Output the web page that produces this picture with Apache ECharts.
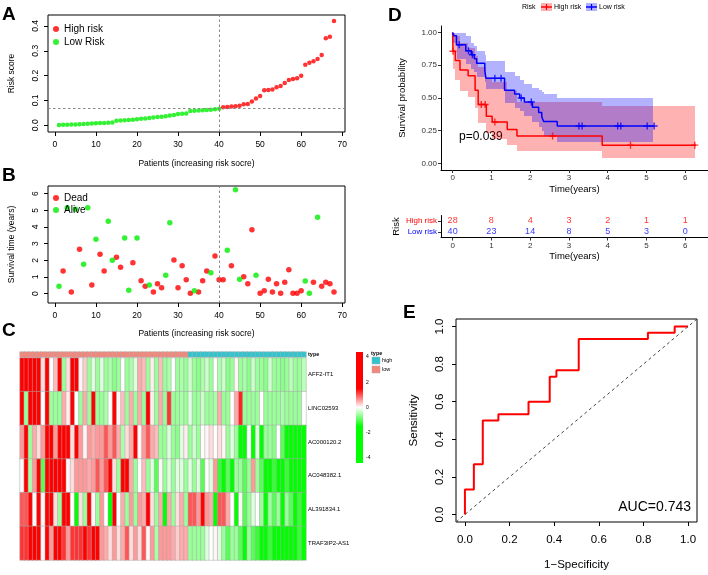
<!DOCTYPE html>
<html><head><meta charset="utf-8">
<script src="https://cdn.jsdelivr.net/npm/echarts@6/dist/echarts.min.js"></script>
<style>html,body{margin:0;padding:0;background:#fff}#c{width:708px;height:575px}</style>
</head><body><div id="c"></div>
<script>
// ---------- Panel A : risk score ----------
const riskScoreLow = [0.001,0.002,0.002,0.003,0.003,0.004,0.005,0.006,0.007,0.008,0.009,0.009,0.010,0.011,0.018,0.019,0.020,0.021,0.022,0.024,0.026,0.027,0.029,0.031,0.033,0.034,0.036,0.039,0.041,0.045,0.046,0.047,0.058,0.059,0.060,0.061,0.062,0.063,0.065,0.067];
const riskScoreHigh = [0.073,0.074,0.076,0.077,0.079,0.085,0.086,0.096,0.108,0.118,0.141,0.142,0.144,0.153,0.158,0.170,0.182,0.186,0.189,0.199,0.244,0.252,0.258,0.267,0.283,0.350,0.356,0.420];
const riskCutoff = 0.069;
const splitPatient = 40;
const patientTicks = [0,10,20,30,40,50,60,70];
const riskTicks = [0,0.1,0.2,0.3,0.4];

// ---------- Panel B : survival status ----------
const survTime = [0.44,1.36,5.16,0.10,5.06,2.66,1.76,5.16,0.52,3.26,2.36,1.36,4.34,2.00,2.18,1.58,3.34,0.20,1.86,3.34,0.78,0.44,0.52,0.10,0.60,0.36,1.10,4.26,2.02,0.36,1.68,0.84,0.02,0.18,0.10,0.78,1.36,1.26,2.26,0.84,0.84,2.60,1.68,6.24,0.86,1.02,0.60,3.84,1.10,0.02,0.18,0.86,0.10,0.60,0.02,0.68,1.44,0.02,0.02,0.18,0.76,0.02,0.68,4.58,0.44,0.68,0.60,0.10];
const survStatus = [0,1,0,1,0,1,0,0,1,0,1,1,0,0,1,1,0,0,1,0,1,1,0,1,1,1,0,0,1,1,1,1,1,0,1,1,1,0,1,1,1,0,1,0,0,1,1,1,0,1,1,1,1,1,1,1,1,1,1,1,0,0,1,0,1,1,1,1];
const timeTicks = [0,1,2,3,4,5,6];

// ---------- Panel C : heatmap ----------
const genes = ['AFF2-IT1','LINC02593','AC000120.2','AC048382.1','AL391834.1','TRAF3IP2-AS1'];
const exprAFF2 = [3,2,3,3,3,0.2,3,0,0.4,3,-0.6,0.2,3,3,0.05,0.3,-0.6,-0.2,-0.6,-0.2,-0.6,-0.5,-0.7,-0.6,0,-0.6,-0.5,-0.2,0.5,0.4,-0.6,0.1,-0.6,0.4,-0.6,-0.5,0,-0.6,-0.5,-0.6,-0.3,-0.6,-0.7,-0.5,-0.3,-0.6,0,-0.5,-0.3,-0.7,-0.6,0.05,-0.6,-0.5,-0.7,-0.3,-0.6,-0.6,-0.7,-0.3,-0.6,-0.6,-0.7,-0.6,-0.4,-0.6,-0.6,-0.4];
const exprLINC = [3,-0.6,3,3,3,0,3,-0.6,-0.6,-0.6,0.5,0.1,3,0,-0.6,0.5,-0.6,3,-0.6,-0.6,-0.5,0,3,0.05,0.4,-0.6,0.5,-0.6,0.5,-0.6,3,0.1,-0.6,0.5,-0.6,1.2,-0.6,-0.6,-0.5,-0.6,-0.2,-0.6,-0.6,-0.3,-0.6,-0.6,-0.5,0.5,-0.6,-0.6,0,0.5,1.3,-0.6,-0.6,-0.6,-0.6,0,-0.6,-0.6,-0.6,-0.6,-0.5,-0.6,-0.6,-0.6,-0.6,0];
const exprAC000120 = [0.6,3,-0.6,0.5,0.2,0.6,3,2.5,0.6,3,3,3,0.2,3,0.6,0.05,0.6,0.5,0.6,0.6,1.0,0.6,1.0,0.5,-0.5,0.2,0.5,3,0.05,0.6,1.0,0.5,0.4,-0.6,-0.6,-0.2,-0.6,-0.7,-0.2,0.1,-0.6,-0.3,-0.6,0,0.05,0.2,0,0.2,0.05,-0.6,-0.2,-0.6,-2.5,-2.5,0,-2.5,-0.2,-2.5,-0.6,-0.6,-0.7,0,-1.0,-2.5,-2.5,-2.5,-2.5,-2.5];
const exprAC048382 = [0.05,3,-0.5,0.6,3,-1.0,3,3,3,3,3,0.05,0.2,0.6,0.6,0.6,0.5,0.6,1.0,0.6,1.0,3,0.2,-0.6,2.5,3,0.5,-0.6,0,0.4,-0.6,-0.2,-1.0,0.05,-0.6,-0.2,-0.6,-0.2,-0.2,-0.6,-0.2,-0.6,-0.2,-1.0,0,-0.2,0.6,-1.2,-2.5,-1.0,-2.5,-0.6,-0.6,-1.0,-0.6,0.6,-0.6,-1.0,-2.5,-2.5,-1.2,-2.5,-2.5,-1.2,-2.5,-2.5,-2.5,-2.5];
const exprAL391834 = [1.0,1.0,3,0.05,3,0.05,3,3,0.2,-0.6,3,2,0,-2.5,0.2,-0.6,3,0.05,-0.6,0.6,0,-2,3,0,0.5,-0.6,0.6,-0.6,0.6,0.5,3,0.2,-0.6,0.5,-1.5,0.5,-0.6,0.2,0.5,-0.6,1.0,1.0,0.6,3,0.6,0.5,-2.5,1.0,1.0,0.5,0,-2,0.05,-1.0,-0.6,-0.2,0,-0.6,-2.5,-0.6,-1.0,-0.6,-2,-0.6,-1.0,-2,-1.2,-2.5];
const exprTRAF3IP2 = [1.2,1.2,3,3,3,0.05,3,0.6,3,3,1.2,0.6,1.2,1.2,1.2,3,1.2,3,2,0.6,0.5,0.2,0.6,0.2,0.5,1.0,0.2,0.6,0.2,1.0,0.05,0.6,-0.5,0.6,0.6,0.6,0.5,0.3,0.5,0.5,-0.6,-0.6,-0.6,-0.6,-0.2,0,0.05,-0.2,-0.6,-1.0,-0.6,-0.6,-1.0,-2,-0.6,-1.0,-1.2,-2.5,-2.5,-1.2,-2.5,-2.5,-2,-2.5,-2.5,-2.5,-1.2,-2.5];
const sampleType = ['low','low','low','low','low','low','low','low','low','low','low','low','low','low','low','low','low','low','low','low','low','low','low','low','low','low','low','low','low','low','low','low','low','low','low','low','low','low','low','low','high','high','high','high','high','high','high','high','high','high','high','high','high','high','high','high','high','high','high','high','high','high','high','high','high','high','high','high'];
const legendTicks = [4,2,0,-2,-4];

// ---------- Panel D : Kaplan-Meier ----------
const kmHighT = [0,0.01,0.07,0.19,0.40,0.58,0.66,0.87,1.02,1.41,1.66,3.86,6.28];
const kmHighS = [1,0.857,0.786,0.714,0.670,0.560,0.450,0.360,0.316,0.260,0.210,0.140,0.140];
const kmLowT = [0,0.03,0.10,0.34,0.48,0.56,0.62,0.83,0.86,1.34,1.60,1.73,1.85,2.06,2.22,2.30,2.35,2.70,5.21];
const kmLowS = [1,0.975,0.906,0.860,0.830,0.800,0.765,0.710,0.650,0.560,0.530,0.500,0.470,0.430,0.390,0.355,0.320,0.286,0.286];
const ciHighT = [0,0.07,0.19,0.40,0.58,0.66,0.87,1.02,1.41,1.66,3.86,6.26];
const ciHighLo = [0.72,0.64,0.55,0.51,0.42,0.31,0.23,0.19,0.14,0.094,0.043];
const ciHighHi = [1.0,0.97,0.92,0.88,0.82,0.74,0.66,0.62,0.55,0.473,0.437];
const ciLowT = [0,0.10,0.34,0.48,0.56,0.62,0.83,0.86,1.34,1.60,1.73,1.85,2.06,2.22,2.30,2.35,2.70,5.18];
const ciLowLo = [0.92,0.80,0.76,0.72,0.70,0.66,0.62,0.57,0.46,0.42,0.40,0.36,0.32,0.28,0.25,0.21,0.163];
const ciLowHi = [1.0,1.0,0.97,0.92,0.90,0.86,0.83,0.78,0.70,0.67,0.64,0.61,0.58,0.56,0.545,0.53,0.50];
const censorHighT = [0.01,0.74,0.84,1.09,2.58,4.59,6.25];
const censorHighS = [0.857,0.450,0.450,0.316,0.210,0.140,0.140];
const censorLowT = [0.17,0.41,0.51,1.09,1.25,1.77,2.03,3.26,3.34,4.26,4.34,5.02,5.20];
const censorLowS = [0.906,0.860,0.830,0.650,0.650,0.500,0.470,0.286,0.286,0.286,0.286,0.286,0.286];
const survTicks = [0,0.25,0.5,0.75,1];
const pValue = 'p=0.039';
const riskTableTimes = [0,1,2,3,4,5,6];
const atRiskHigh = [28,8,4,3,2,1,1];
const atRiskLow = [40,23,14,8,5,3,0];

// ---------- Panel E : ROC ----------
const rocFpr = [0,0,0.04,0.04,0.08,0.08,0.15,0.15,0.285,0.285,0.38,0.38,0.41,0.41,0.51,0.51,0.82,0.82,0.94,0.94,1];
const rocTpr = [0,0.133,0.133,0.267,0.267,0.5,0.5,0.533,0.533,0.6,0.6,0.733,0.733,0.767,0.767,0.933,0.933,0.967,0.967,1,1];
const rocTicks = [0,0.2,0.4,0.6,0.8,1];
const aucText = 'AUC=0.743';

// ================= build =================
const FONT = '"Liberation Sans", Arial, Helvetica, sans-serif';
const RED = '#FF0000', GREEN = '#00EE00', BLUE = '#0000FF';
const chart = echarts.init(document.getElementById('c'), null, {renderer:'canvas', width:708, height:575});

const lowPts = riskScoreLow.map((v,i)=>[i+1, v]);
const highPts = riskScoreHigh.map((v,i)=>[riskScoreLow.length+i+1, v]);
const deadPts = [], alivePts = [];
survTime.forEach((t,i)=>{ (survStatus[i]===1?deadPts:alivePts).push([i+1,t]); });
const exprRows = [exprAFF2, exprLINC, exprAC000120, exprAC048382, exprAL391834, exprTRAF3IP2];
const heatData = [];
exprRows.forEach((row,r)=>row.forEach((v,c)=>heatData.push([c,r,v])));
const typeData = sampleType.map((t,c)=>[c,0,t==='high'?1:0]);
const cats = sampleType.map((_,i)=>String(i+1));

function segs(T, lo, hi){ return lo.map((l,i)=>[T[i],T[i+1],l,hi[i]]); }
function bandRender(color){
  return function(params, api){
    const a = api.coord([api.value(0), api.value(3)]);
    const b = api.coord([api.value(1), api.value(2)]);
    const x0 = Math.round(a[0]), x1 = Math.round(b[0]);
    const y0 = Math.round(a[1]), y1 = Math.round(b[1]);
    return {type:'rect', shape:{x:x0, y:y0, width:x1-x0, height:y1-y0}, style:{fill:color}};
  };
}
const plusPath = 'path://M4,0H6V4H10V6H6V10H4V6H0V4H4Z';

function rAxisX(gi, min, max, ticks, fmt, name, fs, margin, gap){
  return {type:'value', gridIndex:gi, min, max, axisLine:{show:false, onZero:false},
    axisTick:{show:true, length:4, customValues:ticks, lineStyle:{color:'#000'}},
    axisLabel:{customValues:ticks, formatter:fmt, fontSize:fs, color:'#000', margin, fontFamily:FONT},
    splitLine:{show:false}, name, nameLocation:'middle', nameGap:gap,
    nameTextStyle:{fontSize:fs, color:'#000', fontFamily:FONT}};
}
function rAxisY(gi, min, max, ticks, fmt, name, fs, margin, gap){
  return {type:'value', gridIndex:gi, min, max, axisLine:{show:false, onZero:false},
    axisTick:{show:true, length:4, customValues:ticks, lineStyle:{color:'#000'}},
    axisLabel:{customValues:ticks, formatter:fmt, fontSize:fs, color:'#000', margin, rotate:90, fontFamily:FONT},
    splitLine:{show:false}, name, nameLocation:'middle', nameGap:gap,
    nameTextStyle:{fontSize:fs, color:'#000', fontFamily:FONT}};
}
function ggAxisX(gi, ticks, name, showName){
  return {type:'value', gridIndex:gi, min:-0.3, max:6.59,
    axisLine:{show:true, onZero:false, lineStyle:{color:'#000', width:1}},
    axisTick:{show:true, length:3, customValues:ticks, lineStyle:{color:'#333'}},
    axisLabel:{customValues:ticks, fontSize:8, color:'#333', margin:4, fontFamily:FONT},
    splitLine:{show:false}, name, nameLocation:'middle', nameGap:14,
    nameTextStyle:{fontSize:9.5, color:'#000', fontFamily:FONT}};
}

const mlStyle = {color:'#888', type:[2.5,2.5], width:1};

const option = {
  animation:false,
  backgroundColor:'#fff',
  textStyle:{fontFamily:FONT},
  grid:[
    {left:48, top:15, width:297, height:117, show:true, borderColor:'#000', borderWidth:1, backgroundColor:'transparent'},
    {left:48, top:186, width:297, height:117, show:true, borderColor:'#000', borderWidth:1, backgroundColor:'transparent'},
    {left:20, top:352, width:286, height:5},
    {left:20, top:358, width:286, height:202},
    {left:441, top:26, width:277, height:144},
    {left:441, top:215.5, width:277, height:22},
    {left:456, top:319, width:241, height:203, show:true, borderColor:'#000', borderWidth:1, backgroundColor:'transparent'}
  ],
  xAxis:[
    rAxisX(0, -1.68, 70.68, patientTicks, v=>String(v), 'Patients (increasing risk socre)', 8.5, 8, 27),
    rAxisX(1, -1.68, 70.68, patientTicks, v=>String(v), 'Patients (increasing risk socre)', 8.5, 8, 26),
    {type:'category', gridIndex:2, data:cats, show:false},
    {type:'category', gridIndex:3, data:cats, show:false},
    ggAxisX(4, timeTicks, 'Time(years)'),
    ggAxisX(5, timeTicks, 'Time(years)'),
    rAxisX(6, -0.04, 1.04, rocTicks, v=>v.toFixed(1), '1\u2212Specificity', 11.5, 12, 37)
  ],
  yAxis:[
    rAxisY(0, -0.027, 0.444, riskTicks, v=>v.toFixed(1), 'Risk score', 8.5, 8, 32),
    rAxisY(1, -0.56, 6.46, [0,1,2,3,4,5,6], v=>String(v), 'Survival time (years)', 8.5, 8, 32),
    {type:'category', gridIndex:2, data:['type'], position:'right', axisLine:{show:false}, axisTick:{show:false},
      axisLabel:{fontSize:5.5, fontWeight:'bold', color:'#000', margin:2}},
    {type:'category', gridIndex:3, data:genes, inverse:true, position:'right', axisLine:{show:false}, axisTick:{show:false},
      axisLabel:{fontSize:6, color:'#000', margin:2}},
    {type:'value', gridIndex:4, min:-0.05, max:1.05,
      axisLine:{show:true, onZero:false, lineStyle:{color:'#000', width:1}},
      axisTick:{show:true, length:3, customValues:survTicks, lineStyle:{color:'#333'}},
      axisLabel:{customValues:survTicks, formatter:v=>v.toFixed(2), fontSize:8, color:'#333', margin:4},
      splitLine:{show:false}, name:'Survival probability', nameLocation:'middle', nameGap:34,
      nameTextStyle:{fontSize:9.5, color:'#000'}},
    {type:'category', gridIndex:5, data:['Low risk','High risk'],
      axisLine:{show:true, onZero:false, lineStyle:{color:'#000', width:1}},
      axisTick:{show:true, length:3, alignWithLabel:true, lineStyle:{color:'#333'}},
      axisLabel:{fontSize:8, margin:4, color:(v)=> v==='High risk'?RED:BLUE},
      name:'Risk', nameLocation:'middle', nameGap:40, nameTextStyle:{fontSize:9.5, color:'#000'}},
    rAxisY(6, -0.04, 1.04, rocTicks, v=>v.toFixed(1), 'Sensitivity', 11.5, 10, 36)
  ],
  legend:[
    {data:['High risk','Low Risk'], orient:'vertical', left:53, top:23, icon:'circle', itemWidth:6, itemHeight:6,
      itemGap:1, selectedMode:false, textStyle:{fontSize:10, color:'#000', lineHeight:12}, padding:0},
    {data:['Dead','Alive'], orient:'vertical', left:53, top:192, icon:'circle', itemWidth:6, itemHeight:6,
      itemGap:0, selectedMode:false, textStyle:{fontSize:10, color:'#000', lineHeight:12}, padding:0}
  ],
  visualMap:[
    {type:'continuous', min:-4, max:4, seriesIndex:5, show:false,
      inRange:{color:['#00FF00','#00FF00','#00FF00','#00FF00','#00FF00','#00FF00','#55FF55','#AAFFAA','#FFFFFF','#FFAAAA','#FF5555','#FF0000','#FF0000','#FF0000','#FF0000','#FF0000','#FF0000']}},
    {type:'piecewise', seriesIndex:4, show:false,
      pieces:[{value:0, color:'#F4877C'},{value:1, color:'#2EC5CF'}]}
  ],
  series:[
    {name:'Low Risk', type:'scatter', xAxisIndex:0, yAxisIndex:0, data:lowPts, symbolSize:4.5, itemStyle:{color:GREEN}},
    {name:'High risk', type:'scatter', xAxisIndex:0, yAxisIndex:0, data:highPts, symbolSize:4.5, itemStyle:{color:RED},
      markLine:{silent:true, symbol:'none', label:{show:false}, lineStyle:mlStyle, data:[{xAxis:splitPatient},{yAxis:riskCutoff}]}},
    {name:'Dead', type:'scatter', xAxisIndex:1, yAxisIndex:1, data:deadPts, symbolSize:5.5, itemStyle:{color:RED},
      markLine:{silent:true, symbol:'none', label:{show:false}, lineStyle:mlStyle, data:[{xAxis:splitPatient}]}},
    {name:'Alive', type:'scatter', xAxisIndex:1, yAxisIndex:1, data:alivePts, symbolSize:5.5, itemStyle:{color:GREEN}},
    {type:'heatmap', xAxisIndex:2, yAxisIndex:2, data:typeData, itemStyle:{borderColor:'#A8A8A8', borderWidth:0.5}},
    {type:'heatmap', xAxisIndex:3, yAxisIndex:3, data:heatData, itemStyle:{borderColor:'#A8A8A8', borderWidth:0.5}},
    {type:'custom', xAxisIndex:4, yAxisIndex:4, data:segs(ciHighT, ciHighLo, ciHighHi), renderItem:bandRender('rgba(255,0,0,0.3)'), silent:true},
    {type:'custom', xAxisIndex:4, yAxisIndex:4, data:segs(ciLowT, ciLowLo, ciLowHi), renderItem:bandRender('rgba(0,0,255,0.3)'), silent:true},
    {type:'line', xAxisIndex:4, yAxisIndex:4, data:kmHighT.map((t,i)=>[t,kmHighS[i]]), step:'end', showSymbol:false, lineStyle:{color:RED, width:1.5}},
    {type:'line', xAxisIndex:4, yAxisIndex:4, data:kmLowT.map((t,i)=>[t,kmLowS[i]]), step:'end', showSymbol:false, lineStyle:{color:BLUE, width:1.5}},
    {type:'scatter', xAxisIndex:4, yAxisIndex:4, data:censorHighT.map((t,i)=>[t,censorHighS[i]]), symbol:plusPath, symbolSize:7, itemStyle:{color:RED}},
    {type:'scatter', xAxisIndex:4, yAxisIndex:4, data:censorLowT.map((t,i)=>[t,censorLowS[i]]), symbol:plusPath, symbolSize:7, itemStyle:{color:BLUE}},
    {type:'scatter', xAxisIndex:5, yAxisIndex:5, data:riskTableTimes.map((t,i)=>[t,'High risk',atRiskHigh[i]]), symbolSize:0.01,
      label:{show:true, position:'inside', formatter:p=>String(p.value[2]), color:RED, fontSize:9}},
    {type:'scatter', xAxisIndex:5, yAxisIndex:5, data:riskTableTimes.map((t,i)=>[t,'Low risk',atRiskLow[i]]), symbolSize:0.01,
      label:{show:true, position:'inside', formatter:p=>String(p.value[2]), color:BLUE, fontSize:9}},
    {type:'line', xAxisIndex:6, yAxisIndex:6, data:rocFpr.map((x,i)=>[x,rocTpr[i]]), showSymbol:false, lineStyle:{color:RED, width:2},
      markLine:{silent:true, symbol:'none', label:{show:false}, lineStyle:{color:'#444', type:[3,3], width:1},
        data:[[{coord:[-0.04,-0.04]},{coord:[1.04,1.04]}]]}}
  ],
  graphic:[]
};

const g = option.graphic;
function txt(x,y,text,font,fill,align,va){ g.push({type:'text', x, y, silent:true, style:{text, font, fill:fill||'#000', textAlign:align||'left', textVerticalAlign:va||'middle'}}); }
// panel letters
txt(2,15,'A','bold 19px '+FONT);
txt(2,176,'B','bold 19px '+FONT);
txt(2,331,'C','bold 19px '+FONT);
txt(388,16,'D','bold 19px '+FONT);
txt(403,313,'E','bold 19px '+FONT);
// heatmap colour bar
const cbTop = 352, cbH = 111, cbMax = 4.4;
const cbStops = [[4.4,'#FF0000'],[1.5,'#FF0000'],[1,'#FF5555'],[0.5,'#FFAAAA'],[0,'#FFFFFF'],[-0.5,'#AAFFAA'],[-1,'#55FF55'],[-1.5,'#00FF00'],[-4.4,'#00FF00']];
g.push({type:'rect', shape:{x:356, y:cbTop, width:7, height:cbH}, silent:true,
  style:{fill:new echarts.graphic.LinearGradient(0,0,0,1, cbStops.map(s=>({offset:(cbMax-s[0])/(2*cbMax), color:s[1]})))}});
legendTicks.forEach(v=>txt(366, cbTop + (cbMax - v)/(2*cbMax)*cbH, String(v), '5px '+FONT));
txt(371,353,'type','bold 5.5px '+FONT);
g.push({type:'rect', shape:{x:372,y:357,width:8,height:7}, silent:true, style:{fill:'#2EC5CF', stroke:'#A8A8A8', lineWidth:0.5}});
txt(382,360.5,'high','5.5px '+FONT);
g.push({type:'rect', shape:{x:372,y:366,width:8,height:7}, silent:true, style:{fill:'#F4877C', stroke:'#A8A8A8', lineWidth:0.5}});
txt(382,369.5,'low','5.5px '+FONT);
// KM legend
txt(522,7,'Risk','7px '+FONT);
[[541,'rgba(255,0,0,0.3)',RED,'High risk',554],[586,'rgba(0,0,255,0.3)',BLUE,'Low risk',599]].forEach(k=>{
  g.push({type:'rect', shape:{x:k[0],y:3,width:11,height:8}, silent:true, style:{fill:k[1]}});
  g.push({type:'line', shape:{x1:k[0],y1:7,x2:k[0]+11,y2:7}, silent:true, style:{stroke:k[2], lineWidth:1.5}});
  g.push({type:'line', shape:{x1:k[0]+5.5,y1:4,x2:k[0]+5.5,y2:10}, silent:true, style:{stroke:k[2], lineWidth:1.2}});
  txt(k[4],7,k[3],'7px '+FONT);
});
txt(459,137,pValue,'12px '+FONT);
txt(691,507,aucText,'14px '+FONT,'#000','right');

chart.setOption(option);
</script></body></html>
